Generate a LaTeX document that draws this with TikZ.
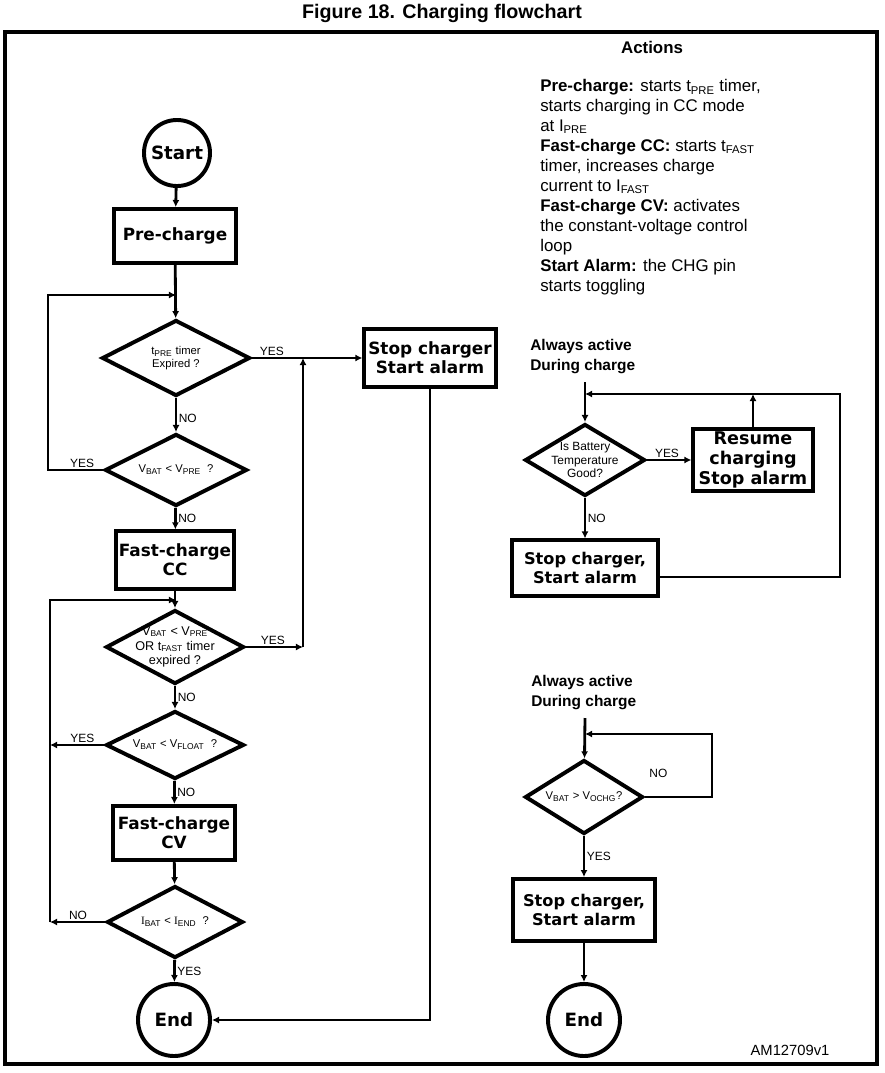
\documentclass[tikz,border=0pt]{standalone}
\usepackage{fontspec}
\setmainfont{Liberation Sans}
\newfontfamily\verdfont{DejaVu Sans}
\newfontfamily\romfont{Liberation Serif}
\usetikzlibrary{positioning, shapes.geometric, arrows.meta}

\newcommand{\lowtxt}[1]{\textsubscript{#1}}

\begin{document}
\begin{tikzpicture}[x=0.025cm, y=-0.025cm, >={Latex[length=5pt,width=5pt]},
  box/.style={draw, line width=2.8pt, align=center, inner sep=2pt,
    font=\verdfont\bfseries\fontsize{12}{13.5}\selectfont},
  term/.style={circle, draw, line width=2.8pt, inner sep=0pt,
    font=\verdfont\bfseries\fontsize{13}{15}\selectfont},
  dec/.style={diamond, draw, line width=2.8pt, inner sep=0pt},
  dtxt/.style={align=center, inner sep=0pt, font=\fontsize{8}{9.5}\selectfont},
  lbl/.style={font=\fontsize{8.5}{10}\selectfont, inner sep=1pt},
  note/.style={font=\bfseries\fontsize{11}{14.2}\selectfont, align=left, inner sep=0pt},
  flow/.style={line width=2pt, ->}]

\useasboundingbox (0,0) rectangle (885,1073);

\node[font=\bfseries\fontsize{14}{16}\selectfont] (title) at (442,13) {Figure 18. Charging flowchart};
\draw[line width=2.2pt] (5,32) rectangle (877,1064);

% main column
\node[term, minimum size=1.65cm] (start) at (177,153) {Start};
\node[box, minimum width=3.03cm, minimum height=1.35cm] (pre) at (175,236) {Pre-charge};
\node[dec, minimum width=3.7cm, minimum height=1.9cm,
  label={[dtxt]center:t\lowtxt{PRE} timer\\Expired ?}] (d1) at (176,358) {};
\node[dec, minimum width=3.55cm, minimum height=1.8cm,
  label={[dtxt]center:V\lowtxt{BAT} < V\lowtxt{PRE}~~?}] (d2) at (176,470) {};
\node[box, minimum width=2.8cm, minimum height=1.43cm] (cc) at (175,560) {Fast-charge\\CC};
\node[dec, minimum width=3.45cm, minimum height=1.85cm,
  label={[dtxt, font=\fontsize{9}{10.5}\selectfont]center:V\lowtxt{BAT} < V\lowtxt{PRE}\\OR t\lowtxt{FAST} timer\\expired ?}] (d3) at (175,647) {};
\node[dec, minimum width=3.45cm, minimum height=1.7cm,
  label={[dtxt]center:V\lowtxt{BAT} < V\lowtxt{FLOAT} ~?}] (d4) at (175,745) {};
\node[box, minimum width=3.05cm, minimum height=1.35cm] (cv) at (174,833) {Fast-charge\\CV};
\node[dec, minimum width=3.4cm, minimum height=1.8cm,
  label={[dtxt]center:{\romfont I}\lowtxt{BAT} < {\romfont I}\lowtxt{END} ~?}] (d5) at (175,922) {};
\node[term, minimum size=1.8cm] (endA) at (174,1020) {End};
\node[box, minimum width=3.28cm, minimum height=1.45cm] (stop) at (430,358) {Stop charger\\Start alarm};

\coordinate (j1) at (176,295);
\coordinate (c2) at (48,470);
\coordinate (j2) at (176,600);
\coordinate (c3) at (303,647);
\coordinate (j3) at (303,358);
\coordinate (c4) at (50,745);
\coordinate (c5) at (50,922);

\draw[flow] (start) -- (pre);
\draw[flow] (pre) -- (d1);
\draw[flow] (d1) -- node[lbl, right, pos=0.6] {NO} (d2);
\draw[flow] (d1) -- node[lbl, above, pos=0.18] {YES} (stop);
\draw[flow] (d2.west) -- node[lbl, above, pos=0.38] {YES} (c2) |- (j1);
\draw[flow] (d2) -- node[lbl, right, pos=0.5] {NO} (cc);
\draw[flow] (cc) -- (d3);
\draw[flow] (d3.east) -- node[lbl, above, pos=0.47] {YES} (c3);
\draw[flow] (c3) -- (j3);
\draw[flow] (d3) -- node[lbl, right, pos=0.5] {NO} (d4);
\draw[flow] (d4.west) -- node[lbl, above, pos=0.4] {YES} (c4);
\draw[flow] (d4) -- node[lbl, right, pos=0.5] {NO} (cv);
\draw[flow] (cv) -- (d5);
\draw[flow] (d5.west) -- node[lbl, above, pos=0.49] {NO} (c5);
\draw[flow] (c5) |- (j2);
\draw[flow] (d5) -- node[lbl, right, pos=0.5] {YES} (endA);
\draw[flow] (stop) |- (endA);

% actions
\node[font=\bfseries\fontsize{12}{14}\selectfont] (acts) at (652,47) {Actions};
\node[anchor=north west, inner sep=0pt, align=left, font=\fontsize{12}{14.2}\selectfont] (actxt) at (540,79)
  {\textbf{Pre-charge:} starts t\lowtxt{PRE} timer,\\
   starts charging in CC mode\\
   at I\lowtxt{PRE}\\
   \textbf{Fast-charge CC:} starts t\lowtxt{FAST}\\
   timer, increases charge\\
   current to I\lowtxt{FAST}\\
   \textbf{Fast-charge CV:} activates\\
   the constant-voltage control\\
   loop\\
   \textbf{Start Alarm:} the CHG pin\\
   starts toggling};

% temperature check
\node[note, anchor=west] (aaT) at (530,357) {Always active\\During charge};
\coordinate (sT) at (585,382);
\coordinate (jT) at (585,394);
\coordinate (cT) at (840,394);
\node[dec, minimum width=3.0cm, minimum height=1.8cm,
  label={[dtxt, font=\fontsize{8.5}{9.5}\selectfont]center:Is Battery\\Temperature\\Good?}] (dT) at (585,460) {};
\node[box, minimum width=2.98cm, minimum height=1.53cm, font=\verdfont\bfseries\fontsize{12.5}{14}\selectfont] (res) at (753,460) {Resume\\charging\\Stop alarm};
\node[box, minimum width=3.63cm, minimum height=1.38cm, font=\verdfont\bfseries\fontsize{11.5}{13.5}\selectfont] (stopA) at (585,568) {Stop charger,\\Start alarm};

\draw[flow] (sT) -- (dT);
\draw[flow] (dT) -- node[lbl, above, pos=0.45] {YES} (res);
\draw[flow] (dT) -- node[lbl, right, pos=0.5] {NO} (stopA);
\draw[flow] (res) -- (res.north |- jT);
\draw[flow] ([yshift=-6.4pt]stopA.east) -| (cT) -- (jT);

% overvoltage check
\node[note, anchor=west] (aaV) at (531,693) {Always active\\During charge};
\coordinate (sV) at (585,718);
\coordinate (jV) at (585,734);
\coordinate (cV) at (712,734);
\node[dec, minimum width=2.95cm, minimum height=1.85cm,
  label={[dtxt]center:V\lowtxt{BAT} > V\lowtxt{OCHG}?}] (dV) at (584,797) {};
\node[box, minimum width=3.53cm, minimum height=1.55cm, font=\verdfont\bfseries\fontsize{11.5}{13.5}\selectfont] (stopB) at (584,910) {Stop charger,\\Start alarm};
\node[term, minimum size=1.8cm] (endB) at (584,1020) {End};

\draw[flow] (sV) -- (dV);
\draw[flow] (dV.east) -| node[lbl, above=12pt, pos=0.1] {NO} (cV) -- (jV);
\draw[flow] (dV) -- node[lbl, right, pos=0.5] {YES} (stopB);
\draw[flow] (stopB) -- (endB);

\node[font=\fontsize{10.5}{12}\selectfont] (tag) at (790,1050) {AM12709v1};

\end{tikzpicture}
\end{document}
